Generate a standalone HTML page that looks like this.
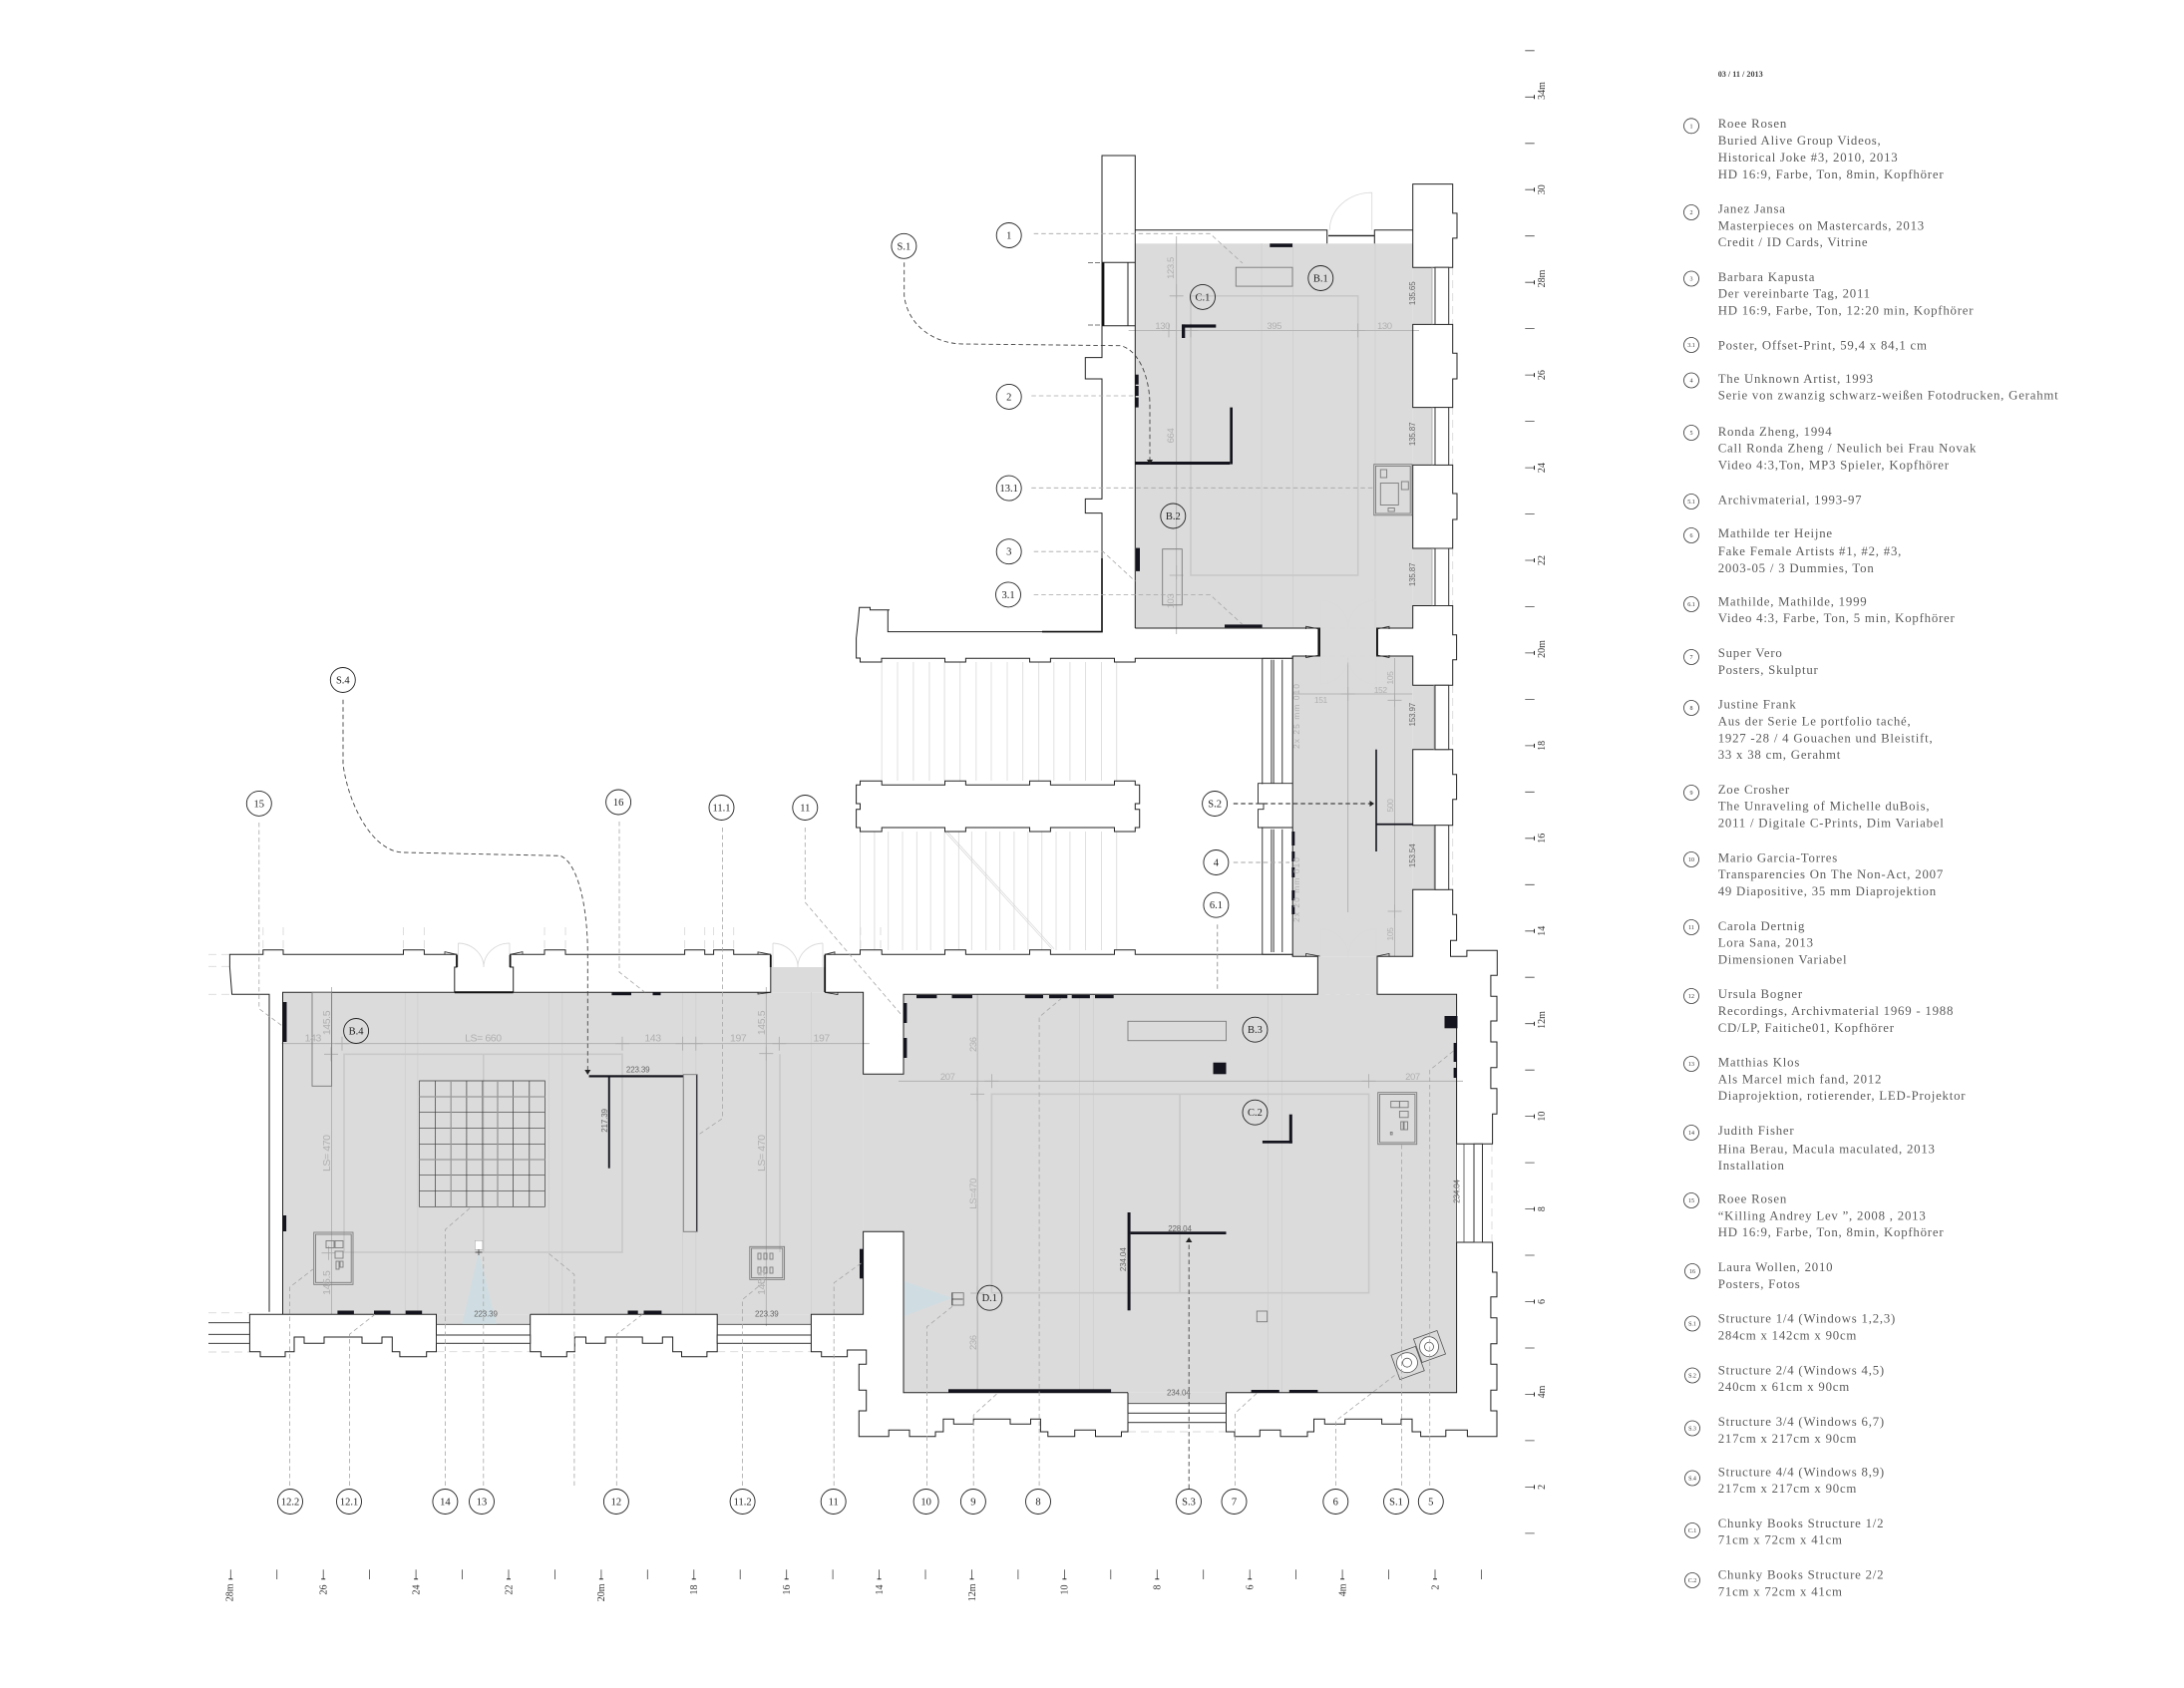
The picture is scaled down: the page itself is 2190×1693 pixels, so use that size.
<!DOCTYPE html>
<html lang="de"><head><meta charset="utf-8"><title>Floor plan</title>
<style>
html,body{margin:0;padding:0;background:#fff}
svg{display:block}
text{font-family:"Liberation Serif",serif}
.l text{font-size:12.8px;letter-spacing:.79px;fill:#5c5c5c}
.lc circle{fill:none;stroke:#333;stroke-width:.8}
.lc text{font-size:6px;text-anchor:middle;fill:#333}
.c circle{fill:none;stroke:#222;stroke-width:.9}
.c text{font-size:10.5px;text-anchor:middle;fill:#222}
.d text{font-family:"Liberation Sans",sans-serif;font-size:9.5px;letter-spacing:-.4px;fill:#b0b0b0;text-anchor:middle}
.d .b{font-size:10.5px}
.k text{font-family:"Liberation Sans",sans-serif;font-size:8px;letter-spacing:-.15px;fill:#666;text-anchor:middle}
.r text{font-size:10px;fill:#333;text-anchor:middle}
.r .e{text-anchor:end}
</style></head>
<body>
<svg width="2190" height="1693" viewBox="0 0 2190 1693" xmlns="http://www.w3.org/2000/svg">
<rect width="2190" height="1693" fill="#fff"/>

<!-- floors -->
<g fill="#dbdbdb">
<rect x="1138.3" y="244.3" width="278.4" height="385.7"/>
<rect x="1416.7" y="268.2" width="19.3" height="57.2"/>
<rect x="1416.7" y="408.6" width="19.3" height="57.8"/>
<rect x="1416.7" y="550" width="19.3" height="57.5"/>
<rect x="1323.5" y="630" width="57" height="28"/>
<rect x="1296.2" y="658" width="120.5" height="301.3"/>
<rect x="1416.7" y="687.3" width="21" height="64.4"/>
<rect x="1416.7" y="827.7" width="21" height="64.6"/>
<rect x="1321.4" y="959.3" width="59.6" height="38"/>
<rect x="906" y="997.3" width="554.6" height="399.4"/>
<rect x="865.6" y="1077.3" width="40.4" height="158"/>
<rect x="1131" y="1396.7" width="98.5" height="11"/>
<rect x="283.5" y="995.3" width="582.1" height="323"/>
<rect x="437.5" y="1318.3" width="94.2" height="10"/>
<rect x="719.2" y="1318.3" width="94.2" height="10"/>
<rect x="772.8" y="970" width="54.4" height="25.3"/>
</g>

<!-- stair treads -->
<g stroke="#e0e0e0" stroke-width="1" fill="none">
<path d="M884.2,664V783M900,664V783M915.9,664V783M931.9,664V783M947.1,664V783M962.7,664V783M978.8,664V783M994,664V783M1010,664V783M1025.6,664V783M1041.6,664V783M1056.8,664V783M1072.9,664V783M1088.5,664V783M1104.5,664V783M1119.7,664V783"/>
<path d="M862.5,834V953M876.9,834V953M890.7,834V953M905,834V953M919.4,834V953M933.2,834V953M947.1,834V953M961.4,834V953M974.4,834V953M988.7,834V953M1002.6,834V953M1016.9,834V953M1030.8,834V953M1044.7,834V953M1059,834V953M1072.9,834V953M1088.5,834V953M1104.5,834V953M1119.7,834V953"/>
<path d="M947.5,834L1054.7,951.7M950,834L1057,951.7" stroke-width=".6" stroke="#d0d0d0"/>
</g>

<!-- faint structural lines in rooms -->
<g fill="none" stroke="#cfcfcf" stroke-width=".8">
<path d="M1265,244V630M1296.7,244V630M1379,244V630"/>
<path d="M1082.5,997V1397M1096.3,997V1397M1271.5,997V1397M1285.4,997V1397"/>
<path d="M406.3,995V1318M418.8,995V1318M550.4,995V1318M563.8,995V1318M684.4,995V1318M697.8,995V1318M813.4,995V1318"/>
</g>
<g fill="none" stroke="#c8c8c8" stroke-width="1.6">
<rect x="1194" y="296.8" width="167.7" height="280.2"/>
<rect x="994.4" y="1097.3" width="378.2" height="199.4"/>
<path d="M1183.1,1097.3V1296.7"/>
<rect x="345" y="1057.3" width="279" height="198.7"/>
<path d="M484.8,1057.3V1256"/>
<path d="M782,1057.3V1256"/>
</g>
<g fill="none" stroke="#aaa" stroke-width=".8">
<path d="M1179.7,237V636M1131.7,331.4H1423"/>
<path d="M1172,324.4v14M1165,331.4h14 M1179.7,285v14M1172.7,296.8h14 M1194,324.4v14M1187,331.4h14 M1361.7,324.4v14M1354.7,331.4h14 M1179.7,567v14M1172.7,577h14"/>
<path d="M1351.7,660V915M1398.5,660V959M1296,696H1416"/>
<path d="M1351.7,689v14M1344.7,696h14 M1398.5,695v14M1391.5,702.3h14 M1398.5,907v14M1391.5,914h14"/>
<path d="M901,1084.3H1467M980.1,997V1397"/>
<path d="M994.4,1077.3v14M987.4,1084.3h14 M1372.6,1077.3v14M1365.6,1084.3h14 M980.1,1090.3v14M973.1,1097.3h14 M980.1,1290v14M973.1,1297h14"/>
<path d="M282.6,1046.7H871.9M332.6,990V1318M768.3,990V1330"/>
<path d="M343,1039.7v14M336,1046.7h14 M624,1039.7v14M617,1046.7h14 M684.4,1039.7v14M677.4,1046.7h14 M697.8,1039.7v14M690.8,1046.7h14 M781.3,1039.7v14M774.3,1046.7h14 M332,1050.3v14M325,1057.3h14 M768.3,1049.7v14M761.3,1056.7h14 M329.5,1249.7v14M322.5,1256.7h14"/>
</g>

<!-- door swings -->
<g fill="none" stroke="#dadada" stroke-width=".9">
<path d="M1375.7,230.7V193.2A42.4,37.5 0 0 0 1333.3,230.7"/>
<path d="M1324.3,602.1V630M1324.3,602.1A28,28 0 0 1 1352,630M1380,602.1V630M1380,602.1A28,28 0 0 0 1352,630"/>
<path d="M1324.3,686V658M1324.3,686A28,28 0 0 0 1352,658M1380,686V658M1380,686A28,28 0 0 1 1352,658"/>
<path d="M1324.3,931.7V959.3M1324.3,931.7A28,28 0 0 1 1352,959.3M1380,931.7V959.3M1380,931.7A28,28 0 0 0 1352,959.3"/>
<path d="M459.5,946V970M459.5,946A26,24 0 0 1 485,970M511,946V970M511,946A26,24 0 0 0 485,970"/>
<path d="M775,946V970M775,946A26,24 0 0 1 800,970M825,946V970M825,946A26,24 0 0 0 800,970"/>
<path d="M1323.5,630H1380.5M1323.5,658H1380.5M1323.5,997.3H1381" stroke-dasharray="6 4"/>
</g>

<!-- construction dashes outside -->
<g fill="none" stroke="#dadada" stroke-width=".9" stroke-dasharray="8 5">
<path d="M209,957.3H232M209,969.3H232M209,997.3H232M209,1316.7H250M209,1356H250"/>
<path d="M437.5,1355.7H531.7M719.2,1355.7H813.4M1131,1436H1229.5M1456.7,268V325M1456.7,408V466M1456.7,550V607M1456.7,687V752M1456.7,828V892M1496,1147V1246"/>
<path d="M263.8,930V952M284,930V952M404.5,930V952M425.4,930V952M546,930V952M567,930V952M686.6,930V952M706.7,930V952M715.6,930V952M735.7,930V952M862.9,930V952M883,930V952"/>
</g>

<!-- building outline -->
<g fill="none" stroke="#222" stroke-width="1" stroke-linejoin="miter">
<path d="M1138.3,630V156H1105V358.6H1088.3V380H1105V500.4H1088.3V514.6H1105V633.6H890.3V611.7H892M892,611.7H872.5V609.3H861.7L860.8,620L858.6,640V660H862.5V664H884V660.3H947.5V664H968.4V660.3H1032.5V664H1053.4V660.3H1117.5V664H1138.3V660.3H1296.2V658H1323.5V630H1138.3"/>
<path d="M1138.3,230.7H1330.7V244.3M1378.3,244.3V230.7H1416.7"/>
<path d="M1416.7,244.3V184.6H1456.7V213.9H1461V238.9H1456.7V268.2H1416.7Z"/>
<path d="M1416.7,325.4H1456.7V354.3H1461V380H1456.7V408.6H1416.7Z"/>
<path d="M1416.7,466.4H1456.7V495H1461V521H1456.7V550H1416.7Z"/>
<path d="M1416.7,607.5H1456.7V636.7H1460.6V661.7H1456.7V687.3H1416.7V658H1380.5V630H1416.7Z"/>
<path d="M1416.7,751.7H1456.7V776.7H1460.6V801.7H1456.7V827.7H1416.7Z"/>
<path d="M1416.7,892.3H1456.7V917.3H1460.6V943.3H1454.5V959.3H1470.9V953.3H1501.3V978.3H1494.9V999.3H1501V1024H1494.9V1045H1501V1070.7H1494.9V1091.7H1501V1117.3H1496.6V1147.3H1460.6V997.3H1381V959.3H1416.7Z"/>
<path d="M1460.6,1246H1496.6V1276H1501V1300.7H1494.9V1321.7H1501V1347.7H1494.9V1368.3H1501V1394.3H1494.9V1415H1501V1440.7H1471.4V1434.3H1449.8V1440.7H1424.6V1436H1416V1423.3H1405V1428.3H1385.6V1423.3H1348.7V1428.3H1328.3V1423.3H1317.5V1436H1311V1440.7H1284V1434.3H1263.3V1440.7H1238V1436H1229.5V1396.7H1460.6Z"/>
<path d="M1131,1396.7V1436H1124.5V1440.7H1098.5V1434.3H1077.7V1440.7H1050.8V1436H1043.4V1423.3H1033.5V1428.3H1013V1423.3H976.2V1428.3H956.3V1423.3H945.9V1436H938V1440.7H912V1434.3H891.2V1440.7H861.3V1415H868.7V1394.3H861.3V1368.3H868.7V1354H849.6V1360.7H823.7V1355.7H813.4V1318.3H865.6V1235.3H906V1396.7H1131"/>
<path d="M283.5,1318.3H250.4V1355.7H261V1360.7H286V1355.7H295V1341H305V1347.3H325V1341H363V1347.3H383V1341H393.3V1355.7H400.9V1360.7H427.7V1355.7H437.5V1318.3H283.5"/>
<path d="M531.7,1318.3V1355.7H542.4V1360.7H568.3V1355.7H576.3V1341H587.5V1347.3H607.1V1341H644.2V1347.3H664.3V1341H674.6V1355.7H683.5V1360.7H708.9V1355.7H719.2V1318.3H531.7"/>
<path d="M270,1315.7V997.3H232.6L230.4,970V957.3H263.8V952.7H284V957.3H404.5V952.7H425.4V957.3H458V970H455.8V995.3H283.5V1318.3"/>
<path d="M514.7,995.3V970H511.6V957.3H546V952.7H567V957.3H686.6V952.7H706.7V957.3H715.6V952.7H735.7V957.3H772.8V995.3H514.7"/>
<path d="M827.2,995.3V957.3H862.5V952.7H884.2V957.3H947.5V952.7H968.4V957.3H1032.5V952.7H1053.4V957.3H1117.5V952.7H1138.3V957.3H1265.8H1296.2V959.3H1321.4V997.3H906V1077.3H865.6V995.3H827.2"/>
<path d="M862.5,783.3H884.2V787.3H947.5V783.3H968.4V787.3H1032.5V783.3H1053.4V787.3H1117.5V783.3H1138.3V787.3H1142.7V806H1138.3V811.7H1142.7V830H1138.3V834H1117.5V830H1053.4V834H1032.5V830H968.4V834H947.5V830H884.2V834H862.5V830H858.6V811.7H862.5V806H858.6V787.3H862.5Z"/>
<path d="M1296.2,658V959.3M906,1235.3V1396.7"/>
<path d="M250.4,1326.7H209M250.4,1338.3H209M250.4,1347.3H209" stroke-width=".9"/>
<!-- door flags -->
<path d="M458,957.3L446,954.6V957.3M511.6,957.3L524,954.6V957.3M772.8,957.3L760,954.8V957.3M827.2,957.3L837,954.8V957.3M772.8,995.3L760,997V995.3M827.2,995.3L840,997.5V995.3" stroke-width=".8"/>
<path d="M1323.5,631L1309.6,628.2V631M1380.5,631L1393,628.2V631M1323.5,657L1309.6,659.5V657M1380.5,657L1393,659.5V657M1323.5,959L1309.6,956.5V959M1380.5,959L1393,956.5V959" stroke-width=".8"/>
</g>
<path d="M884,660.3H947.5M968.4,660.3H1032.5M1053.4,660.3H1117.5" stroke="#333" stroke-width=".6"/>

<!-- window bays -->
<g fill="#fff" stroke="#333" stroke-width="1">
<rect x="1439" y="268.2" width="13.7" height="57.2"/>
<rect x="1439" y="408.6" width="13.7" height="57.8"/>
<rect x="1439" y="550" width="13.7" height="57.5"/>
<rect x="1439" y="687.3" width="13.7" height="64.4"/>
<rect x="1439" y="827.7" width="13.7" height="64.6"/>
<rect x="1478" y="1147.3" width="8.5" height="98.7"/>
<rect x="1131" y="1417.3" width="98.5" height="9.4"/>
<rect x="437.5" y="1339" width="94.2" height="8.3"/>
<rect x="719.2" y="1339" width="94.2" height="8.3"/>
</g>
<path d="M1436,268V325.4M1436,408.6V466.4M1436,550V607.5M1438,687V752M1438,828V892" stroke="#9a9a9a" stroke-width=".7" fill="none"/>
<path d="M437.5,1328.3H531.7M719.2,1328.3H813.4M1131,1407.7H1229.5M1460.6,1147.3V1246M1468,1147.3V1246" stroke="#444" stroke-width=".8" fill="none"/>

<!-- stairwell windows column -->
<g fill="none" stroke="#222" stroke-width=".9">
<path d="M1265.8,660.3V957.3M1274.9,661.7V785.7M1277.1,661.7V785.7M1285.8,661.7V785.7M1274.9,831.7V955M1277.1,831.7V955M1285.8,831.7V955"/>
<path d="M1265.8,957.3H1296.2M1265.8,660.3H1296.2"/>
</g>
<rect x="1262.2" y="786.4" width="33" height="43" fill="#fff"/>
<path d="M1296.2,785.7H1261.5V806H1267V811.7H1261.5V830H1296.2" fill="none" stroke="#222" stroke-width=".9"/>

<!-- left window of B.1 and door -->
<g fill="none" stroke="#222" stroke-width="1">
<path d="M1105,263.3H1138.3M1105,326.7H1138.3M1131,263.3V326.7"/>
<path d="M1106.3,263.3V326.7" stroke-width="2.2" stroke="#111"/>
<path d="M1091,263.5H1105M1091,326H1105" stroke-dasharray="5 2" stroke="#777"/>
<path d="M1332,236.4H1378" stroke-width="1.4"/>
</g>

<!-- thick door jambs -->
<g fill="none" stroke="#111" stroke-width="1.8">
<path d="M1322.3,631V657M1381,631V657"/>
<path d="M458,958V970M511.6,958V970M772.8,958V970M827.2,958V995"/>
<path d="M455.8,995.3H514.7" stroke-width="2"/>
<path d="M1105,560V633.6H1045" stroke-width="1.6"/>
</g>

<!-- object walls / black bars -->
<g fill="#14141e">
<rect x="1273.3" y="244.3" width="22.7" height="3.6"/>
<rect x="1185" y="325.4" width="34.3" height="3.2"/>
<rect x="1185" y="325.4" width="3.3" height="13.6"/>
<rect x="1233.3" y="408.6" width="2.7" height="57"/>
<rect x="1138.3" y="463" width="95" height="3"/>
<rect x="1138.3" y="375.7" width="3.4" height="10"/>
<rect x="1138.3" y="387" width="3.4" height="10"/>
<rect x="1138.3" y="398.6" width="3.4" height="10"/>
<rect x="1139" y="549.6" width="4" height="23.3"/>
<rect x="1228" y="626.4" width="37.7" height="3"/>
<rect x="1379.2" y="751.7" width="1.6" height="102.3"/>
<rect x="1380" y="825.8" width="36.7" height="1.8"/>
<rect x="1295.3" y="834" width="3" height="14"/>
<rect x="1295.3" y="854" width="3" height="10"/>
<rect x="1295.3" y="870" width="3" height="10"/>
<rect x="1295.3" y="893" width="3" height="10"/>
<rect x="1295.3" y="908" width="3" height="9"/>
<rect x="906" y="1006" width="3.4" height="20"/>
<rect x="906" y="1041" width="3.4" height="20"/>
<rect x="919" y="998" width="20.4" height="3.2"/>
<rect x="954.5" y="998" width="20.5" height="3.2"/>
<rect x="1027.8" y="998" width="18.2" height="3.2"/>
<rect x="1052" y="998" width="18.3" height="3.2"/>
<rect x="1074.7" y="998" width="18.2" height="3.2"/>
<rect x="1098" y="998" width="18.7" height="3.2"/>
<rect x="1216.5" y="1065.7" width="13" height="11.6"/>
<rect x="1448.5" y="1019" width="13" height="12.3"/>
<rect x="1457.6" y="1046" width="3" height="19"/>
<rect x="1457.6" y="1071" width="3" height="10"/>
<rect x="951" y="1393.3" width="163.1" height="3.4"/>
<rect x="1254.6" y="1394" width="28.2" height="2.7"/>
<rect x="1292.8" y="1394" width="28.6" height="2.7"/>
<rect x="1130.6" y="1216" width="3" height="98.3"/>
<rect x="1133.6" y="1235.3" width="95.9" height="2.7"/>
<rect x="1265.9" y="1144" width="29.9" height="2.7"/>
<rect x="1292.8" y="1117.7" width="3" height="29"/>
<rect x="283.9" y="1005" width="3.6" height="40"/>
<rect x="283.9" y="1219" width="3.2" height="16"/>
<rect x="338.4" y="1314.5" width="16.5" height="3.5"/>
<rect x="375" y="1314.5" width="16.5" height="3.5"/>
<rect x="406.7" y="1314.5" width="16.5" height="3.5"/>
<rect x="629.5" y="1314.5" width="10.2" height="3.5"/>
<rect x="645.5" y="1314.5" width="17.9" height="3.5"/>
<rect x="613.4" y="995.3" width="19.6" height="2.9"/>
<rect x="654.5" y="995.3" width="8" height="2.9"/>
<rect x="862" y="1252.7" width="3.6" height="29.6"/>
<rect x="590.6" y="1078.3" width="94.7" height="2.2"/>
<rect x="609.8" y="1080" width="1.9" height="91.7"/>
<rect x="698" y="1077.7" width="1.6" height="157.6"/>
</g>

<!-- vitrines, structures -->
<g fill="none" stroke="#7a7a7a" stroke-width=".9">
<rect x="1239.3" y="268.2" width="56.7" height="18.9"/>
<rect x="1165.7" y="550.7" width="19.6" height="56.1"/>
<rect x="1131" y="1024.3" width="98.5" height="19.4"/>
<rect x="313" y="995.3" width="19.6" height="94"/>
<rect x="685.3" y="1077.7" width="13.8" height="157.6"/>
<rect x="1377.7" y="465.7" width="38.3" height="51.1"/>
<rect x="1379.5" y="467.5" width="34.7" height="47.5"/>
<rect x="1384.3" y="471" width="6.3" height="8"/>
<rect x="1384.3" y="484.5" width="18" height="22"/>
<rect x="1405.3" y="483" width="7" height="8"/>
<rect x="1392" y="509.5" width="6.3" height="3.5"/>
<rect x="1381.7" y="1095.7" width="39" height="52"/>
<rect x="1383.5" y="1097.5" width="35.4" height="48.4"/>
<rect x="1394.7" y="1104.5" width="8.7" height="6.3"/>
<rect x="1403.4" y="1104.5" width="8.7" height="6.3"/>
<rect x="1403.4" y="1114.5" width="8.7" height="6.3"/>
<rect x="1404.7" y="1125" width="2.5" height="8"/>
<rect x="1408" y="1125" width="3.5" height="8"/>
<rect x="1394.3" y="1135.5" width="1.8" height="2.5"/>
<rect x="314.7" y="1236" width="39.3" height="52.3"/>
<rect x="316.5" y="1238" width="35.7" height="48.3"/>
<rect x="327" y="1244.5" width="8" height="7"/>
<rect x="336" y="1244.5" width="8" height="7"/>
<rect x="336" y="1255" width="8" height="7"/>
<rect x="337" y="1265" width="3" height="8"/>
<rect x="341" y="1265" width="3" height="6"/>
<rect x="751.8" y="1250.3" width="34.8" height="33"/>
<rect x="753.6" y="1252" width="31.2" height="29.6"/>
<rect x="760" y="1257" width="3" height="6"/><rect x="766" y="1257" width="3" height="6"/><rect x="772" y="1257" width="3" height="6"/>
<rect x="760" y="1271" width="3" height="6"/><rect x="766" y="1271" width="3" height="6"/><rect x="772" y="1271" width="3" height="6"/>
<rect x="954.5" y="1296.7" width="11.7" height="12.3"/>
<rect x="1260.3" y="1315" width="10.4" height="10.7"/>
</g>
<g fill="none" stroke="#3a3a3a" stroke-width=".7">
<path d="M420.5,1084H546.4V1210.3H420.5Z"/>
<path d="M436.6,1084V1210.3M467.9,1084V1210.3M483.9,1084V1210.3M514.6,1084V1210.3M530.8,1084V1210.3"/>
<path d="M420.5,1115.7H546.4M420.5,1131.7H546.4M420.5,1147.3H546.4M420.5,1178.7H546.4M420.5,1194.3H546.4"/>
</g>
<g fill="none" stroke="#9a9a9a" stroke-width="1.3">
<path d="M452.2,1084V1210.3M499,1084V1210.3M420.5,1100H546.4M420.5,1163H546.4"/>
</g>

<!-- projection triangles and camera -->
<polygon points="479.9,1256 463.4,1327.7 497.8,1327.7" fill="#cfdde2"/>
<polygon points="906.8,1285 906.8,1320 954.5,1301.7" fill="#cfdde2"/>
<rect x="476.3" y="1244.3" width="7.6" height="9" fill="#fff" stroke="#999" stroke-width=".5"/>
<path d="M476.5,1256h7M480,1253v6M955,1296.7v12M954.5,1303h11" stroke="#333" stroke-width=".7" fill="none"/>

<!-- speakers -->
<g stroke="#555" stroke-width=".8">
<rect x="1398.6" y="1354" width="26" height="26" fill="none" transform="rotate(-20 1411.6 1367)"/>
<rect x="1421" y="1338" width="25" height="25" fill="none" transform="rotate(-20 1433.5 1350.5)"/>
<ellipse cx="1411" cy="1366.7" rx="10.5" ry="10" fill="#fff"/>
<circle cx="1411" cy="1366.7" r="4.5" fill="none"/>
<ellipse cx="1433" cy="1350.7" rx="9.5" ry="10" fill="#fff"/>
<circle cx="1433" cy="1350.7" r="4.5" fill="none"/>
</g>

<!-- callout dashes -->
<g fill="none" stroke="#a6a6a6" stroke-width=".8" stroke-dasharray="4.5 3">
<path d="M1036.7,234.3H1213.3L1246,264"/>
<path d="M1034.3,397H1138.3"/>
<path d="M1034.3,489.3H1376.7"/>
<path d="M1036.7,553.2H1106L1138.3,582.9"/>
<path d="M1036.7,596.4H1213.3L1246,626.4"/>
<path d="M1236.8,865H1293" stroke-width="1.1"/>
<path d="M1220.7,927.3V993.3" stroke-width="1.1"/>
<path d="M290.6,1490V1291L313.8,1273"/>
<path d="M350.4,1490V1338.3L376,1318.3"/>
<path d="M446.4,1490V1233.3L472.3,1210.7"/>
<path d="M484.8,1490V1258"/>
<path d="M575.9,1490V1278.3L550.4,1257.3"/>
<path d="M618.3,1490V1338.3L644.2,1318.3"/>
<path d="M744.6,1490V1303.3L769.2,1283.3"/>
<path d="M836.2,1490V1286.7L863.8,1266.7"/>
<path d="M259.8,825V1011.7L283.5,1029.3"/>
<path d="M621,824V975L646.4,995"/>
<path d="M724.5,830V1121.7L700,1138.3"/>
<path d="M807.3,830V905L904,1018"/>
<path d="M929.4,1490V1330.7L955.4,1310"/>
<path d="M976.2,1490V1419.3L1001,1396.7"/>
<path d="M1042.1,1490V1020L1066,1000"/>
<path d="M1238.6,1490V1417.3L1261,1396.7"/>
<path d="M1339.6,1490V1425L1402,1376.7"/>
<path d="M1405.5,1490V1148.3"/>
<path d="M1433.7,1490V1073.3L1458.4,1053.3"/>
</g>
<g fill="none" stroke="#444" stroke-width=".9" stroke-dasharray="4.5 3">
<path d="M906.7,263.3V296.7C910,325 935,345 966.7,345L1123.3,346.7C1140,350 1153,375 1153,407V461"/>
<path d="M344,701.7V766.7C350,810 375,855 405,855L561.7,858.3C578,864 589.3,905 589.3,957V1073"/>
<path d="M1192.2,1493V1245"/>
<path d="M1236.8,806H1374" stroke-width="1.3"/>
</g>
<g fill="#222">
<polygon points="1153,466 1150,461 1156,461"/>
<polygon points="589.3,1078 586.3,1073 592.3,1073"/>
<polygon points="1192.2,1241 1189,1246 1195.4,1246"/>
<polygon points="1378,806 1373.5,803 1373.5,809"/>
</g>

<!-- grey dimensions -->
<g class="d">
<text x="1165.7" y="330">130</text><text x="1277.7" y="330">395</text><text x="1388.3" y="330">130</text>
<text transform="translate(1177,269) rotate(-90)">123.5</text>
<text transform="translate(1177,437) rotate(-90)">664</text>
<text transform="translate(1177,603) rotate(-90)">103</text>
<text transform="translate(1397,680) rotate(-90)" style="font-size:8.5px">105</text>
<text transform="translate(1397,808) rotate(-90)" style="font-size:8.5px">500</text>
<text transform="translate(1397,937) rotate(-90)" style="font-size:8.5px">105</text>
<text x="1324.4" y="705" style="font-size:8.5px">151</text>
<text x="1384.2" y="695" style="font-size:8.5px">152</text>
<text transform="translate(1303,718) rotate(-90)" style="font-size:8.5px;letter-spacing:1px">2x 25 mm 010</text>
<text transform="translate(1303,892) rotate(-90)" style="font-size:8.5px;letter-spacing:1px">2x 20 mm 010</text>
<text x="950.2" y="1083">207</text><text x="1416.4" y="1083">207</text>
<text transform="translate(979,1047.7) rotate(-90)">236</text>
<text transform="translate(979,1197.3) rotate(-90)">LS=470</text>
<text transform="translate(979,1346.7) rotate(-90)">236</text>
<text class="b" x="313.8" y="1044.5">143</text><text class="b" x="484.4" y="1044.5">LS= 660</text><text class="b" x="654.5" y="1044.5">143</text><text class="b" x="740.2" y="1044.5">197</text><text class="b" x="823.7" y="1044.5">197</text>
<text class="b" transform="translate(331,1026) rotate(-90)">145.5</text>
<text class="b" transform="translate(767,1026) rotate(-90)">145.5</text>
<text class="b" transform="translate(331,1156.7) rotate(-90)">LS= 470</text>
<text class="b" transform="translate(767,1156.7) rotate(-90)">LS= 470</text>
<text class="b" transform="translate(331,1286.7) rotate(-90)">145.5</text>
<text class="b" transform="translate(767,1286.7) rotate(-90)">145.5</text>
</g>
<g class="k">
<text transform="translate(1419,294.3) rotate(-90)">135.65</text>
<text transform="translate(1419,435.4) rotate(-90)">135.87</text>
<text transform="translate(1419,576.4) rotate(-90)">135.87</text>
<text transform="translate(1419,716.7) rotate(-90)">153.97</text>
<text transform="translate(1419,858.3) rotate(-90)">153.54</text>
<text x="1183" y="1235">228.04</text>
<text transform="translate(1129,1263.3) rotate(-90)">234.04</text>
<text x="1181.8" y="1399.5">234.04</text>
<text transform="translate(1463.5,1195) rotate(-90)">234.04</text>
<text x="639.7" y="1075.5">223.39</text>
<text transform="translate(609,1124) rotate(-90)">217.39</text>
<text x="487" y="1320.5">223.39</text>
<text x="768.8" y="1320.5">223.39</text>
</g>

<!-- plan circles -->
<g class="c">
<circle cx="1011.7" cy="236" r="12.5"/><text x="1011.7" y="239.5">1</text>
<circle cx="1011.7" cy="397.9" r="12.5"/><text x="1011.7" y="401.4">2</text>
<circle cx="1011.7" cy="489.6" r="12.5"/><text x="1011.7" y="493.1">13.1</text>
<circle cx="1011.7" cy="553.2" r="12.5"/><text x="1011.7" y="556.7">3</text>
<circle cx="1011" cy="596.4" r="12.5"/><text x="1011" y="599.9">3.1</text>
<circle cx="906.4" cy="246.8" r="12.5"/><text x="906.4" y="250.3">S.1</text>
<circle cx="343.8" cy="682" r="12.5"/><text x="343.8" y="685.5">S.4</text>
<circle cx="259.8" cy="805.9" r="12.5"/><text x="259.8" y="809.4">15</text>
<circle cx="620.1" cy="804.5" r="12.5"/><text x="620.1" y="808">16</text>
<circle cx="723.5" cy="810" r="12.5"/><text x="723.5" y="813.5">11.1</text>
<circle cx="807.3" cy="810" r="12.5"/><text x="807.3" y="813.5">11</text>
<circle cx="1218.1" cy="806" r="12.5"/><text x="1218.1" y="809.5">S.2</text>
<circle cx="1219.4" cy="865" r="12.5"/><text x="1219.4" y="868.5">4</text>
<circle cx="1219.4" cy="907.7" r="12.5"/><text x="1219.4" y="911.2">6.1</text>
<circle cx="1324.3" cy="279" r="12.5"/><text x="1324.3" y="282.5">B.1</text>
<circle cx="1206" cy="297.9" r="12.5"/><text x="1206" y="301.4">C.1</text>
<circle cx="1176.3" cy="517.5" r="12.5"/><text x="1176.3" y="521">B.2</text>
<circle cx="1258.5" cy="1032.7" r="12.5"/><text x="1258.5" y="1036.2">B.3</text>
<circle cx="1258.5" cy="1115.7" r="12.5"/><text x="1258.5" y="1119.2">C.2</text>
<circle cx="992.3" cy="1301.7" r="12.5"/><text x="992.3" y="1305.2">D.1</text>
<circle cx="357.1" cy="1034" r="12.5"/><text x="357.1" y="1037.5">B.4</text>
<circle cx="291" cy="1506" r="12.5"/><text x="291" y="1509.5">12.2</text>
<circle cx="350" cy="1506" r="12.5"/><text x="350" y="1509.5">12.1</text>
<circle cx="446.4" cy="1506" r="12.5"/><text x="446.4" y="1509.5">14</text>
<circle cx="483" cy="1506" r="12.5"/><text x="483" y="1509.5">13</text>
<circle cx="617.9" cy="1506" r="12.5"/><text x="617.9" y="1509.5">12</text>
<circle cx="744.6" cy="1506" r="12.5"/><text x="744.6" y="1509.5">11.2</text>
<circle cx="835.7" cy="1506" r="12.5"/><text x="835.7" y="1509.5">11</text>
<circle cx="928.6" cy="1506" r="12.5"/><text x="928.6" y="1509.5">10</text>
<circle cx="975.9" cy="1506" r="12.5"/><text x="975.9" y="1509.5">9</text>
<circle cx="1041" cy="1506" r="12.5"/><text x="1041" y="1509.5">8</text>
<circle cx="1192" cy="1506" r="12.5"/><text x="1192" y="1509.5">S.3</text>
<circle cx="1237.5" cy="1506" r="12.5"/><text x="1237.5" y="1509.5">7</text>
<circle cx="1339.3" cy="1506" r="12.5"/><text x="1339.3" y="1509.5">6</text>
<circle cx="1400" cy="1506" r="12.5"/><text x="1400" y="1509.5">S.1</text>
<circle cx="1434.8" cy="1506" r="12.5"/><text x="1434.8" y="1509.5">5</text>
</g>

<!-- rulers -->
<path fill="none" stroke="#444" stroke-width=".8" d="M1529.3,50.8h9.4M1529.3,97.3h9.4M1529.3,143.8h9.4M1529.3,190.2h9.4M1529.3,236.7h9.4M1529.3,283.2h9.4M1529.3,329.6h9.4M1529.3,376.1h9.4M1529.3,422.6h9.4M1529.3,469.1h9.4M1529.3,515.5h9.4M1529.3,562h9.4M1529.3,608.5h9.4M1529.3,654.9h9.4M1529.3,701.4h9.4M1529.3,747.9h9.4M1529.3,794.3h9.4M1529.3,840.8h9.4M1529.3,887.3h9.4M1529.3,933.8h9.4M1529.3,980.2h9.4M1529.3,1026.7h9.4M1529.3,1073.2h9.4M1529.3,1119.6h9.4M1529.3,1166.1h9.4M1529.3,1212.6h9.4M1529.3,1259h9.4M1529.3,1305.5h9.4M1529.3,1352h9.4M1529.3,1398.5h9.4M1529.3,1444.9h9.4M1529.3,1491.4h9.4M1529.3,1537.9h9.4"/>
<path fill="none" stroke="#222" stroke-width="1" d="M1538.5,95.3v4M1538.5,188.2v4M1538.5,281.2v4M1538.5,374.1v4M1538.5,467.1v4M1538.5,560v4M1538.5,652.9v4M1538.5,745.9v4M1538.5,838.8v4M1538.5,931.8v4M1538.5,1024.7v4M1538.5,1117.6v4M1538.5,1210.6v4M1538.5,1303.5v4M1538.5,1396.5v4M1538.5,1489.4v4"/>
<path fill="none" stroke="#444" stroke-width=".8" d="M231.3,1574.3v9.7M277.7,1574.3v9.7M324.2,1574.3v9.7M370.6,1574.3v9.7M417.1,1574.3v9.7M463.5,1574.3v9.7M510,1574.3v9.7M556.4,1574.3v9.7M602.9,1574.3v9.7M649.3,1574.3v9.7M695.8,1574.3v9.7M742.2,1574.3v9.7M788.7,1574.3v9.7M835.1,1574.3v9.7M881.6,1574.3v9.7M928,1574.3v9.7M974.5,1574.3v9.7M1020.9,1574.3v9.7M1067.4,1574.3v9.7M1113.8,1574.3v9.7M1160.3,1574.3v9.7M1206.7,1574.3v9.7M1253.2,1574.3v9.7M1299.6,1574.3v9.7M1346.1,1574.3v9.7M1392.5,1574.3v9.7M1439,1574.3v9.7M1485.4,1574.3v9.7"/>
<path fill="none" stroke="#222" stroke-width="1" d="M229.3,1583.8h4M322.2,1583.8h4M415.1,1583.8h4M508,1583.8h4M600.9,1583.8h4M693.8,1583.8h4M786.7,1583.8h4M879.6,1583.8h4M972.5,1583.8h4M1065.4,1583.8h4M1158.3,1583.8h4M1251.2,1583.8h4M1344.1,1583.8h4M1437,1583.8h4"/>
<g class="r">
<text transform="translate(1549,1491.4) rotate(-90)">2</text>
<text transform="translate(1549,1396) rotate(-90)">4m</text>
<text transform="translate(1549,1305.5) rotate(-90)">6</text>
<text transform="translate(1549,1212.6) rotate(-90)">8</text>
<text transform="translate(1549,1119.6) rotate(-90)">10</text>
<text transform="translate(1549,1023) rotate(-90)">12m</text>
<text transform="translate(1549,933.8) rotate(-90)">14</text>
<text transform="translate(1549,840.8) rotate(-90)">16</text>
<text transform="translate(1549,747.9) rotate(-90)">18</text>
<text transform="translate(1549,651) rotate(-90)">20m</text>
<text transform="translate(1549,562) rotate(-90)">22</text>
<text transform="translate(1549,469.1) rotate(-90)">24</text>
<text transform="translate(1549,376.1) rotate(-90)">26</text>
<text transform="translate(1549,279.5) rotate(-90)">28m</text>
<text transform="translate(1549,190.2) rotate(-90)">30</text>
<text transform="translate(1549,91) rotate(-90)">34m</text>
<text class="e" transform="translate(233.5,1588.5) rotate(-90)">28m</text>
<text class="e" transform="translate(327.5,1589.5) rotate(-90)">26</text>
<text class="e" transform="translate(420.4,1589.5) rotate(-90)">24</text>
<text class="e" transform="translate(513.3,1589.5) rotate(-90)">22</text>
<text class="e" transform="translate(606.2,1588.5) rotate(-90)">20m</text>
<text class="e" transform="translate(699.1,1589.5) rotate(-90)">18</text>
<text class="e" transform="translate(792,1589.5) rotate(-90)">16</text>
<text class="e" transform="translate(884.9,1589.5) rotate(-90)">14</text>
<text class="e" transform="translate(977.8,1588.5) rotate(-90)">12m</text>
<text class="e" transform="translate(1070.7,1589.5) rotate(-90)">10</text>
<text class="e" transform="translate(1163.6,1589.5) rotate(-90)">8</text>
<text class="e" transform="translate(1256.5,1589.5) rotate(-90)">6</text>
<text class="e" transform="translate(1349.4,1588.5) rotate(-90)">4m</text>
<text class="e" transform="translate(1442.3,1589.5) rotate(-90)">2</text>
</g>

<!-- legend -->
<text x="1722.7" y="77" style="font-size:8.2px;font-weight:bold;fill:#444">03 / 11 / 2013</text>
<g class="l">
<text x="1722.7" y="128">Roee Rosen</text>
<text x="1722.7" y="145">Buried Alive Group Videos,</text>
<text x="1722.7" y="162">Historical Joke #3, 2010, 2013</text>
<text x="1722.7" y="179">HD 16:9, Farbe, Ton, 8min, Kopfhörer</text>
<text x="1722.7" y="213.5">Janez Jansa</text>
<text x="1722.7" y="230.3">Masterpieces on Mastercards, 2013</text>
<text x="1722.7" y="247">Credit / ID Cards, Vitrine</text>
<text x="1722.7" y="282">Barbara Kapusta</text>
<text x="1722.7" y="298.7">Der vereinbarte Tag, 2011</text>
<text x="1722.7" y="315.5">HD 16:9, Farbe, Ton, 12:20 min, Kopfhörer</text>
<text x="1722.7" y="350.4">Poster, Offset-Print, 59,4 x 84,1 cm</text>
<text x="1722.7" y="384">The Unknown Artist, 1993</text>
<text x="1722.7" y="400.7">Serie von zwanzig schwarz-weißen Fotodrucken, Gerahmt</text>
<text x="1722.7" y="437">Ronda Zheng, 1994</text>
<text x="1722.7" y="453.7">Call Ronda Zheng / Neulich bei Frau Novak</text>
<text x="1722.7" y="470.5">Video 4:3,Ton, MP3 Spieler, Kopfhörer</text>
<text x="1722.7" y="505.4">Archivmaterial, 1993-97</text>
<text x="1722.7" y="539">Mathilde ter Heijne</text>
<text x="1722.7" y="557">Fake Female Artists #1, #2, #3,</text>
<text x="1722.7" y="573.9">2003-05 / 3 Dummies, Ton</text>
<text x="1722.7" y="607.4">Mathilde, Mathilde, 1999</text>
<text x="1722.7" y="624.1">Video 4:3, Farbe, Ton, 5 min, Kopfhörer</text>
<text x="1722.7" y="659">Super Vero</text>
<text x="1722.7" y="675.8">Posters, Skulptur</text>
<text x="1722.7" y="710.7">Justine Frank</text>
<text x="1722.7" y="727.5">Aus der Serie Le portfolio taché,</text>
<text x="1722.7" y="744.3">1927 -28 / 4 Gouachen und Bleistift,</text>
<text x="1722.7" y="761">33 x 38 cm, Gerahmt</text>
<text x="1722.7" y="795.9">Zoe Crosher</text>
<text x="1722.7" y="812.7">The Unraveling of Michelle duBois,</text>
<text x="1722.7" y="829.4">2011 / Digitale C-Prints, Dim Variabel</text>
<text x="1722.7" y="864.4">Mario Garcia-Torres</text>
<text x="1722.7" y="881.1">Transparencies On The Non-Act, 2007</text>
<text x="1722.7" y="897.9">49 Diapositive, 35 mm Diaprojektion</text>
<text x="1722.7" y="932.8">Carola Dertnig</text>
<text x="1722.7" y="949.6">Lora Sana, 2013</text>
<text x="1722.7" y="966.3">Dimensionen Variabel</text>
<text x="1722.7" y="1001.2">Ursula Bogner</text>
<text x="1722.7" y="1018">Recordings, Archivmaterial 1969 - 1988</text>
<text x="1722.7" y="1034.8">CD/LP, Faitiche01, Kopfhörer</text>
<text x="1722.7" y="1069.7">Matthias Klos</text>
<text x="1722.7" y="1086.4">Als Marcel mich fand, 2012</text>
<text x="1722.7" y="1103.2">Diaprojektion, rotierender, LED-Projektor</text>
<text x="1722.7" y="1138.1">Judith Fisher</text>
<text x="1722.7" y="1156.3">Hina Berau, Macula maculated, 2013</text>
<text x="1722.7" y="1173">Installation</text>
<text x="1722.7" y="1206.6">Roee Rosen</text>
<text x="1722.7" y="1223.3">“Killing Andrey Lev ”, 2008 , 2013</text>
<text x="1722.7" y="1240.1">HD 16:9, Farbe, Ton, 8min, Kopfhörer</text>
<text x="1722.7" y="1275">Laura Wollen, 2010</text>
<text x="1722.7" y="1291.8">Posters, Fotos</text>
<text x="1722.7" y="1326.7">Structure 1/4 (Windows 1,2,3)</text>
<text x="1722.7" y="1343.4">284cm x 142cm x 90cm</text>
<text x="1722.7" y="1378.3">Structure 2/4 (Windows 4,5)</text>
<text x="1722.7" y="1395.1">240cm x 61cm x 90cm</text>
<text x="1722.7" y="1430">Structure 3/4 (Windows 6,7)</text>
<text x="1722.7" y="1446.8">217cm x 217cm x 90cm</text>
<text x="1722.7" y="1480.3">Structure 4/4 (Windows 8,9)</text>
<text x="1722.7" y="1497.1">217cm x 217cm x 90cm</text>
<text x="1722.7" y="1532">Chunky Books Structure 1/2</text>
<text x="1722.7" y="1548.7">71cm x 72cm x 41cm</text>
<text x="1722.7" y="1583.7">Chunky Books Structure 2/2</text>
<text x="1722.7" y="1600.4">71cm x 72cm x 41cm</text>
</g>
<g class="lc">
<circle cx="1696" cy="126.3" r="7.5"/><text x="1696" y="128.5">1</text>
<circle cx="1696" cy="213" r="7.5"/><text x="1696" y="215.2">2</text>
<circle cx="1696" cy="279.5" r="7.5"/><text x="1696" y="281.7">3</text>
<circle cx="1696" cy="346" r="7.5"/><text x="1696" y="348.2">3.1</text>
<circle cx="1696" cy="381.5" r="7.5"/><text x="1696" y="383.7">4</text>
<circle cx="1696" cy="434" r="7.5"/><text x="1696" y="436.2">5</text>
<circle cx="1696" cy="503" r="7.5"/><text x="1696" y="505.2">5.1</text>
<circle cx="1696" cy="537" r="7.5"/><text x="1696" y="539.2">6</text>
<circle cx="1696" cy="606" r="7.5"/><text x="1696" y="608.2">6.1</text>
<circle cx="1696" cy="659" r="7.5"/><text x="1696" y="661.2">7</text>
<circle cx="1696" cy="710" r="7.5"/><text x="1696" y="712.2">8</text>
<circle cx="1696" cy="795" r="7.5"/><text x="1696" y="797.2">9</text>
<circle cx="1696" cy="862" r="7.5"/><text x="1696" y="864.2">10</text>
<circle cx="1696" cy="930" r="7.5"/><text x="1696" y="932.2">11</text>
<circle cx="1696" cy="999" r="7.5"/><text x="1696" y="1001.2">12</text>
<circle cx="1696" cy="1067" r="7.5"/><text x="1696" y="1069.2">13</text>
<circle cx="1696" cy="1136" r="7.5"/><text x="1696" y="1138.2">14</text>
<circle cx="1696" cy="1204" r="7.5"/><text x="1696" y="1206.2">15</text>
<circle cx="1697" cy="1275" r="7.5"/><text x="1697" y="1277.2">16</text>
<circle cx="1697" cy="1327.5" r="7.5"/><text x="1697" y="1329.7">S.1</text>
<circle cx="1697" cy="1379.5" r="7.5"/><text x="1697" y="1381.7">S.2</text>
<circle cx="1697" cy="1432.5" r="7.5"/><text x="1697" y="1434.7">S.3</text>
<circle cx="1697" cy="1482.5" r="7.5"/><text x="1697" y="1484.7">S.4</text>
<circle cx="1697" cy="1535" r="7.5"/><text x="1697" y="1537.2">C.1</text>
<circle cx="1697" cy="1585" r="7.5"/><text x="1697" y="1587.2">C.2</text>
</g>
</svg>
</body></html>
